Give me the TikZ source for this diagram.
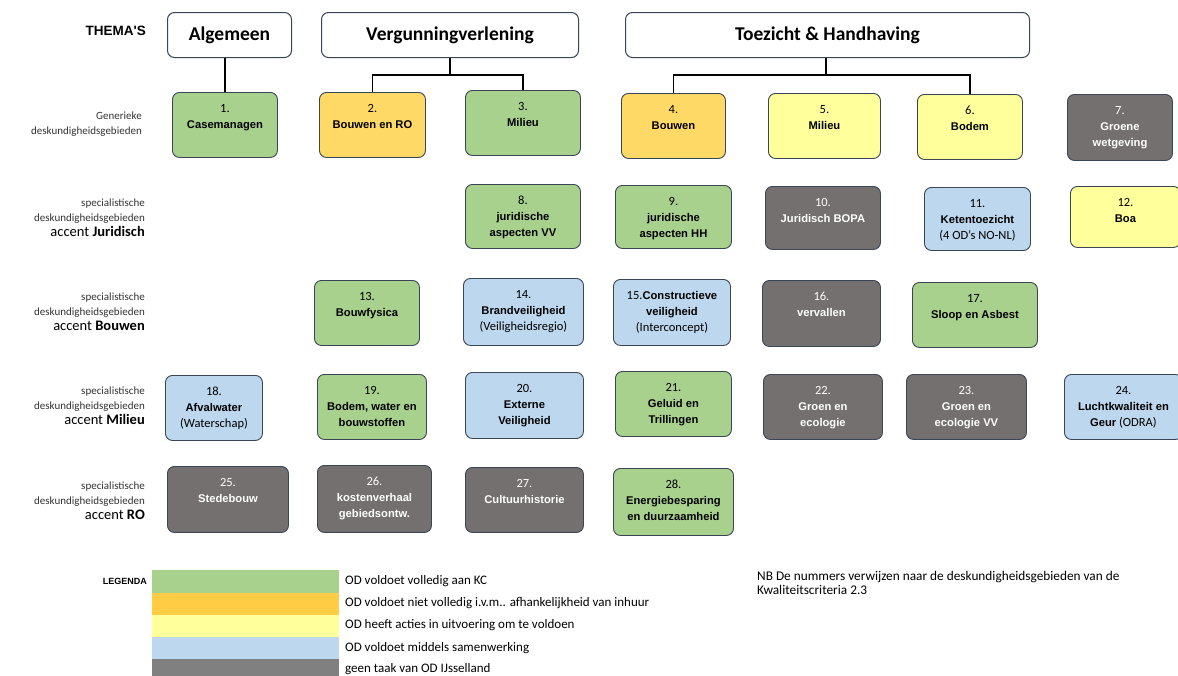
\documentclass[tikz,border=0pt]{standalone}
\usepackage{fontspec}
\setmainfont{Carlito}
\newfontfamily\bsans{Liberation Sans}
\definecolor{kgreen}{HTML}{A9D18E}
\definecolor{korange}{HTML}{FFD966}
\definecolor{lorange}{HTML}{FFCC44}
\definecolor{kyellow}{HTML}{FFFF9C}
\definecolor{kblue}{HTML}{BDD7EE}
\definecolor{kgrey}{HTML}{757070}
\definecolor{lgrey}{HTML}{808080}
\definecolor{kborder}{HTML}{3A4556}
\definecolor{labtext}{HTML}{333333}
\tikzset{
  kb/.style={draw=kborder, line width=0.9pt, rounded corners=7pt, inner sep=0pt},
  gbox/.style={kb, fill=kgreen},
  obox/.style={kb, fill=korange},
  ybox/.style={kb, fill=kyellow},
  bbox/.style={kb, fill=kblue},
  dbox/.style={kb, fill=kgrey},
  themebox/.style={draw=kborder, line width=1pt, rounded corners=7pt, fill=white, inner sep=0pt,
     font=\fontsize{19.5}{22}\selectfont\bfseries},
  boxtext/.style={align=center, inner sep=0pt, font=\fontsize{12.5}{16}\selectfont},
  rowlab/.style={align=right, anchor=east, inner sep=0pt, text=labtext, font=\fontsize{11}{15}\selectfont},
  conn/.style={draw=black, line width=1.2pt},
  legtext/.style={anchor=west, inner sep=0pt, font=\fontsize{13}{15}\selectfont},
}
\newcommand\nm[1]{{\bsans\bfseries\fontsize{11.2}{16}\selectfont #1}}
\newcommand\acc[1]{{\fontsize{14.5}{16}\selectfont\color{black} accent \textbf{#1}}}
% name, x1, y1, x2, y2, style, text colour, text
\newcommand\kbox[8]{%
  \node[#6, minimum width={#4-#2}, minimum height={#5-#3}, anchor=north west] (#1) at (#2,#3) {};
  \node[boxtext, text=#7, anchor=north] (#1t) at ([yshift=-12pt]#1.north) {#8};}
\begin{document}
\begin{tikzpicture}[x=1pt,y=-1pt]
\useasboundingbox[fill=white] (0,0) rectangle (1178,675);

% themes
\node[font=\bsans\bfseries\fontsize{13.5}{15}\selectfont, anchor=east, inner sep=0pt] (thema) at (146,31) {THEMA'S};
\node[themebox, minimum width=124, minimum height=45, anchor=north west] (alg) at (167,12) {Algemeen};
\node[themebox, minimum width=257, minimum height=45, anchor=north west] (verg) at (321,12) {Vergunningverlening};
\node[themebox, minimum width=404, minimum height=45, anchor=north west] (toez) at (625,12) {Toezicht \& Handhaving};

% row labels
\node[rowlab] (l1) at (142,124) {Generieke\\deskundigheidsgebieden};
\node[rowlab] (l2) at (145,218) {specialistische\\deskundigheidsgebieden\\\acc{Juridisch}};
\node[rowlab] (l3) at (145,312) {specialistische\\deskundigheidsgebieden\\\acc{Bouwen}};
\node[rowlab] (l4) at (145,406) {specialistische\\deskundigheidsgebieden\\\acc{Milieu}};
\node[rowlab] (l5) at (145,501) {specialistische\\deskundigheidsgebieden\\\acc{RO}};

% row 1
\kbox{b1}{172}{92}{277}{157}{gbox}{black}{1.\\\nm{Casemanagen}}
\kbox{b2}{319}{92}{425}{157}{obox}{black}{2.\\\nm{Bouwen en RO}}
\kbox{b3}{465}{90}{580}{155}{gbox}{black}{3.\\\nm{Milieu}}
\kbox{b4}{621}{93}{725}{158}{obox}{black}{4.\\\nm{Bouwen}}
\kbox{b5}{768}{93}{880}{158}{ybox}{black}{5.\\\nm{Milieu}}
\kbox{b6}{917}{94}{1022}{159}{ybox}{black}{6.\\\nm{Bodem}}
\kbox{b7}{1067}{94}{1172}{160}{dbox}{white}{7.\\\nm{Groene}\\\nm{wetgeving}}

% row 2
\kbox{b8}{465}{184}{580}{248}{gbox}{black}{8.\\\nm{juridische}\\\nm{aspecten VV}}
\kbox{b9}{615}{185}{731}{248}{gbox}{black}{9.\\\nm{juridische}\\\nm{aspecten HH}}
\kbox{b10}{765}{186}{880}{249}{dbox}{white}{10.\\\nm{Juridisch BOPA}}
\kbox{b11}{924}{187}{1030}{250}{bbox}{black}{11.\\\nm{Ketentoezicht}\\(4 OD's NO-NL)}
\kbox{b12}{1070}{186}{1180}{247}{ybox}{black}{12.\\\nm{Boa}}

% row 3
\kbox{b13}{314}{280}{419}{345}{gbox}{black}{13.\\\nm{Bouwfysica}}
\kbox{b14}{463}{278}{583}{345}{bbox}{black}{14.\\\nm{Brandveiligheid}\\(Veiligheidsregio)}
\kbox{b15}{613}{279}{730}{345}{bbox}{black}{15.\nm{Constructieve}\\\nm{veiligheid}\\(Interconcept)}
\kbox{b16}{762}{280}{880}{346}{dbox}{white}{16.\\\nm{vervallen}}
\kbox{b17}{912}{282}{1037}{347}{gbox}{black}{17.\\\nm{Sloop en Asbest}}

% row 4
\kbox{b18}{165}{375}{262}{440}{bbox}{black}{18.\\\nm{Afvalwater}\\(Waterschap)}
\kbox{b19}{317}{374}{426}{439}{gbox}{black}{19.\\\nm{Bodem, water en}\\\nm{bouwstoffen}}
\kbox{b20}{465}{372}{583}{438}{bbox}{black}{20.\\\nm{Externe}\\\nm{Veiligheid}}
\kbox{b21}{615}{371}{731}{436}{gbox}{black}{21.\\\nm{Geluid en}\\\nm{Trillingen}}
\kbox{b22}{763}{374}{882}{439}{dbox}{white}{22.\\\nm{Groen en}\\\nm{ecologie}}
\kbox{b23}{906}{374}{1026}{439}{dbox}{white}{23.\\\nm{Groen en}\\\nm{ecologie VV}}
\kbox{b24}{1064}{374}{1182}{439}{bbox}{black}{24.\\\nm{Luchtkwaliteit en}\\\nm{Geur} (ODRA)}

% row 5
\kbox{b25}{167}{466}{288}{532}{dbox}{white}{25.\\\nm{Stedebouw}}
\kbox{b26}{317}{465}{431}{532}{dbox}{white}{26.\\\nm{kostenverhaal}\\\nm{gebiedsontw.}}
\kbox{b27}{465}{467}{583}{532}{dbox}{white}{27.\\\nm{Cultuurhistorie}}
\kbox{b28}{613}{468}{733}{535}{gbox}{black}{28.\\\nm{Energiebesparing}\\\nm{en duurzaamheid}}

% connectors
\draw[conn] (alg.south -| b1.north) -- (b1.north);
\coordinate (vj) at (450,75);
\draw[conn] (verg.south -| vj) -- (vj);
\draw[conn] (b2.north) |- (vj) -| (b3.north);
\coordinate (tj) at (826,75);
\draw[conn] (toez.south -| tj) -- (tj);
\draw[conn] (b4.north) |- (tj) -| (b6.north);

% legend
\node[font=\bsans\bfseries\fontsize{9}{10}\selectfont, anchor=east, inner sep=0pt] (leg) at (147,581) {LEGENDA};
\fill[kgreen] (152,570) rectangle (339,593);
\fill[lorange] (152,593) rectangle (339,615);
\fill[kyellow] (152,615) rectangle (339,637);
\fill[kblue] (152,637) rectangle (339,659);
\fill[lgrey] (152,659) rectangle (339,677);
\node[legtext] (lt1) at (345,581) {OD voldoet volledig aan KC};
\node[legtext] (lt2) at (345,603) {OD voldoet niet volledig i.v.m.. afhankelijkheid van inhuur};
\node[legtext] (lt3) at (345,625) {OD heeft acties in uitvoering om te voldoen};
\node[legtext] (lt4) at (345,648) {OD voldoet middels samenwerking};
\node[legtext] (lt5) at (345,669) {geen taak van OD IJsselland};

% note
\node[anchor=north west, align=left, inner sep=0pt, font=\fontsize{13.3}{14.5}\selectfont] (nb) at (757,571)
  {NB De nummers verwijzen naar de deskundigheidsgebieden van de\\Kwaliteitscriteria 2.3};
\end{tikzpicture}
\end{document}
